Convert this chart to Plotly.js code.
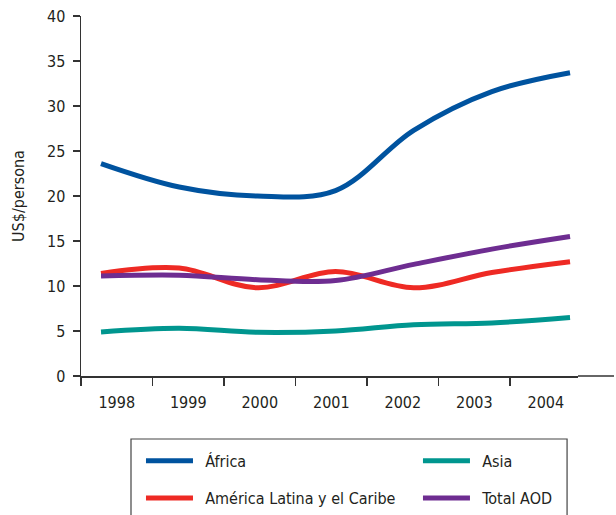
<!DOCTYPE html>
<html>
<head>
<meta charset="utf-8">
<script src="https://cdn.plot.ly/plotly-3.0.1.min.js"></script>
<style>html,body{margin:0;padding:0;background:#fff;}#chart{width:616px;height:515px;}</style>
</head>
<body>
<div id="chart"></div>
<script>
const years = [1998, 1999, 2000, 2001, 2002, 2003, 2004];
const yearLabels = ['1998', '1999', '2000', '2001', '2002', '2003', '2004'];
const africa = [23.6, 21.0, 20.0, 20.6, 27.3, 31.6, 33.7];
const asia = [4.9, 5.3, 4.85, 5.0, 5.7, 5.9, 6.5];
const americaLatina = [11.4, 12.0, 9.8, 11.6, 9.8, 11.5, 12.7];
const totalAOD = [11.1, 11.2, 10.7, 10.6, 12.4, 14.1, 15.5];

const FONT = '"Liberation Sans Narrow", "DejaVu Sans Condensed", "Arial Narrow", Roboto, sans-serif';
const SP = '\u2002';

function tr(name, y, color, legend) {
  return {
    x: years, y: y, name: SP + name, type: 'scatter', mode: 'lines',
    xaxis: 'x', yaxis: 'y', legend: legend,
    line: {color: color, width: 5, shape: 'spline', smoothing: 1}
  };
}

const data = [
  // carrier of the category axis with the year labels (draws nothing)
  {x: yearLabels, y: yearLabels.map(() => null), xaxis: 'x2', yaxis: 'y',
   type: 'scatter', mode: 'lines', showlegend: false, hoverinfo: 'skip'},
  tr('África', africa, '#00539f', 'legend'),
  tr('Asia', asia, '#00968f', 'legend2'),
  tr('América Latina y el Caribe', americaLatina, '#ee2a24', 'legend3'),
  tr('Total AOD', totalAOD, '#6e2d91', 'legend4')
];

function leg(x, y) {
  return {
    orientation: 'h', xanchor: 'left', yanchor: 'middle', x: x, y: y,
    xref: 'paper', yref: 'paper',
    bgcolor: 'rgba(0,0,0,0)', borderwidth: 0,
    font: {family: FONT, size: 16, color: '#231f20'},
    itemwidth: 47
  };
}

// plot area: x 81..578 px, y 16..376 px
const layout = {
  width: 616, height: 515,
  margin: {l: 81, r: 38, t: 16, b: 139, autoexpand: false},
  paper_bgcolor: '#fff', plot_bgcolor: '#fff',
  font: {family: FONT, size: 16, color: '#231f20'},
  showlegend: true,
  legend: leg(0.1207, -0.236),
  legend2: leg(0.678, -0.236),
  legend3: leg(0.1207, -0.339),
  legend4: leg(0.678, -0.339),
  xaxis: {
    range: [1997.744, 2004.102], visible: false, fixedrange: true
  },
  xaxis2: {
    overlaying: 'x', anchor: 'y', side: 'bottom', type: 'category',
    categoryorder: 'array', categoryarray: yearLabels,
    range: [-0.5, 6.45], tickson: 'boundaries',
    ticks: 'outside', ticklen: 8, tickwidth: 1.5, tickcolor: '#333',
    ticklabelstandoff: 11,
    showline: true, linecolor: '#333', linewidth: 1.5,
    showgrid: false, zeroline: false, fixedrange: true,
    tickfont: {family: FONT, size: 16, color: '#231f20'}
  },
  yaxis: {
    range: [0, 40], dtick: 5, tick0: 0,
    ticks: 'outside', ticklen: 7, tickwidth: 1.5, tickcolor: '#333',
    showline: true, linecolor: '#333', linewidth: 1.5,
    showgrid: false, zeroline: false, fixedrange: true,
    ticklabelstandoff: 4,
    tickfont: {family: FONT, size: 16, color: '#231f20'},
    title: {text: 'US$/persona', font: {family: FONT, size: 16, color: '#231f20'}, standoff: 18}
  },
  shapes: [
    {type: 'line', xref: 'paper', yref: 'paper', x0: 1, x1: 1.0724, y0: 0, y1: 0,
     line: {color: '#333', width: 1.5}},
    {type: 'rect', xref: 'paper', yref: 'paper',
     x0: 0.1006, x1: 0.978, y0: -0.175, y1: -0.6,
     line: {color: '#444', width: 1.2}, fillcolor: 'rgba(0,0,0,0)', layer: 'below'}
  ]
};

Plotly.newPlot('chart', data, layout, {staticPlot: true, displayModeBar: false});
</script>
</body>
</html>
